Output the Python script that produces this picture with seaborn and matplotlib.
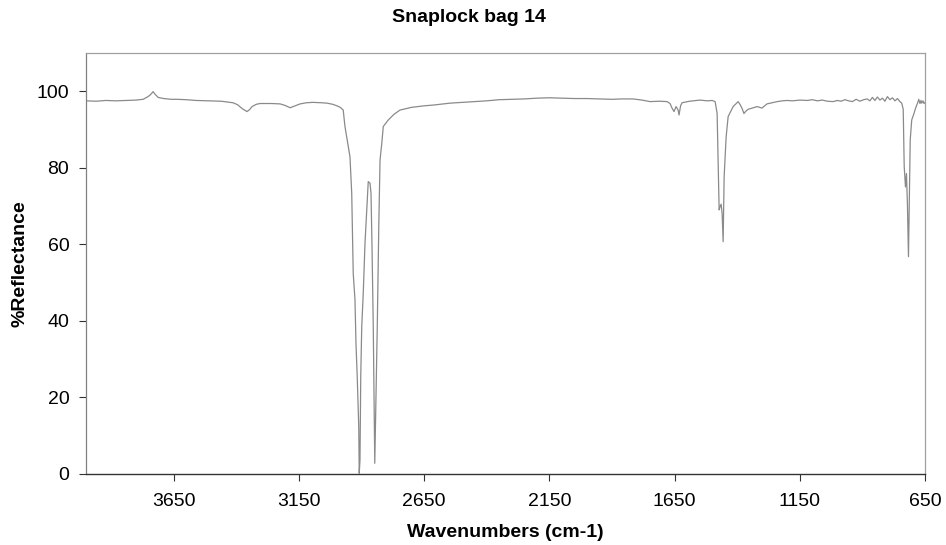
import matplotlib
matplotlib.use("Agg")
import matplotlib.pyplot as plt
import seaborn as sns
import pandas as pd

# IR reflectance spectrum of a snap-lock polyethylene bag
wavenumber = [
    4000, 3960, 3920, 3880, 3840, 3800, 3772, 3755, 3744, 3732, 3724, 3712,
    3690, 3660, 3637, 3600, 3560, 3505, 3460, 3413, 3395, 3377, 3365, 3357,
    3347, 3337, 3320, 3305, 3260, 3225, 3205, 3185, 3165, 3145, 3120, 3094,
    3060, 3038, 3015, 2998, 2985, 2973, 2966, 2954, 2946, 2939, 2933, 2926,
    2922, 2917, 2911, 2909, 2906, 2903, 2899, 2893, 2886, 2879, 2873, 2866,
    2862, 2858, 2853, 2850, 2847, 2842, 2837, 2831, 2826, 2819, 2813, 2793,
    2770, 2746, 2700, 2650, 2613, 2546, 2500, 2450, 2400, 2350, 2300, 2250,
    2200, 2150, 2100, 2050, 2000, 1948, 1900, 1860, 1816, 1780, 1748, 1710,
    1680, 1668, 1660, 1652, 1644, 1640, 1636, 1632, 1626, 1620, 1590, 1548,
    1520, 1500, 1488, 1480, 1472, 1468, 1464, 1460, 1456, 1452, 1444, 1436,
    1416, 1396, 1388, 1381, 1373, 1365, 1356, 1340, 1321, 1310, 1301, 1281,
    1260, 1240, 1220, 1200, 1180, 1149, 1120, 1100, 1080, 1060, 1040, 1017,
    1000, 985, 970, 955, 940, 925, 910, 895, 881, 870, 860, 850,
    840, 830, 820, 810, 800, 790, 780, 770, 760, 750, 743, 737,
    733, 728, 724, 720, 716, 713, 709, 703, 694, 688, 683, 679,
    675, 670, 666, 663, 658, 654, 650,
]
reflectance = [
    97.5, 97.4, 97.6, 97.5, 97.6, 97.7, 97.9, 98.5, 99.0, 99.9, 99.2, 98.4,
    98.1, 97.9, 97.9, 97.8, 97.6, 97.5, 97.4, 97.0, 96.5, 95.5, 95.0, 94.7,
    95.2, 96.0, 96.6, 96.8, 96.8, 96.7, 96.3, 95.7, 96.2, 96.7, 97.0, 97.1,
    97.0, 96.9, 96.6, 96.2, 95.8, 95.1, 90.8, 86.0, 82.9, 73.3, 52.4, 45.5,
    34.1, 25.4, 12.4, 0.2, 3.7, 25.4, 38.5, 47.2, 60.3, 69.0, 76.4, 76.0,
    73.3, 59.4, 38.5, 21.1, 2.8, 21.1, 38.5, 64.6, 82.0, 86.4, 90.8, 92.5,
    94.0, 95.1, 95.8, 96.2, 96.4, 96.9, 97.1, 97.3, 97.5, 97.8, 97.9, 98.0,
    98.2, 98.3, 98.2, 98.1, 98.1, 98.0, 97.9, 98.0, 98.0, 97.7, 97.3, 97.4,
    97.3, 96.8, 95.6, 94.7, 96.0, 95.6, 95.1, 93.8, 96.2, 97.0, 97.4, 97.7,
    97.5, 97.6, 97.3, 94.2, 69.0, 69.9, 70.5, 68.0, 60.7, 77.7, 88.1, 93.4,
    96.0, 97.3, 96.5, 95.6, 94.2, 94.8, 95.3, 95.6, 96.0, 95.8, 95.6, 96.7,
    97.0, 97.3, 97.5, 97.6, 97.5, 97.7, 97.6, 97.8, 97.5, 97.7, 97.4, 97.3,
    97.6, 97.4, 97.8, 97.5, 97.3, 97.9, 97.4, 97.8, 98.0, 97.5, 98.4, 97.6,
    98.5, 97.7, 98.2, 97.4, 98.6, 97.8, 98.3, 97.5, 98.1, 97.3, 96.9, 95.3,
    80.3, 75.0, 78.5, 70.0, 56.8, 70.0, 87.3, 92.5, 94.2, 95.5, 96.4, 97.0,
    97.9, 96.8, 97.6, 96.9, 97.5, 96.8, 97.1,
]

x_ticks = [3650, 3150, 2650, 2150, 1650, 1150, 650]
y_ticks = [0, 20, 40, 60, 80, 100]

spectrum = pd.DataFrame({"wavenumber": wavenumber, "reflectance": reflectance})

sns.set_theme(style="white")
plt.rcParams["font.family"] = ["Liberation Sans", "DejaVu Sans"]
plt.rcParams["text.color"] = "black"
plt.rcParams["axes.labelcolor"] = "black"

fig, ax = plt.subplots(figsize=(9.46, 5.45), dpi=100)
fig.subplots_adjust(left=86 / 946, right=925 / 946, bottom=1 - 474 / 545, top=1 - 53 / 545)

sns.lineplot(data=spectrum, x="wavenumber", y="reflectance", ax=ax,
             estimator=None, color="#8a8a8a", linewidth=0.9)

ax.set_xlim(4000, 650)
ax.set_ylim(0, 110)
ax.set_xticks(x_ticks)
ax.set_yticks(y_ticks)
ax.tick_params(axis="both", which="major", direction="out", length=5, width=0.8,
               color="#333333", labelsize=14, labelcolor="black",
               bottom=True, left=True)
ax.tick_params(axis="x", pad=9)
ax.tick_params(axis="y", pad=7)

for side in ("top", "right"):
    ax.spines[side].set_color("#a0a0a0")
    ax.spines[side].set_linewidth(0.9)
ax.spines["left"].set_color("#808080")
ax.spines["left"].set_linewidth(0.9)
ax.spines["bottom"].set_color("#333333")
ax.spines["bottom"].set_linewidth(1.0)

fig.text(469 / 946, 1 - 18 / 545, "Snaplock bag 14", fontsize=14,
         fontweight="bold", color="black", ha="center", va="center")
ax.set_xlabel("Wavenumbers (cm-1)", fontsize=14, fontweight="bold", labelpad=10)
ax.set_ylabel("%Reflectance", fontsize=14, fontweight="bold", labelpad=6)

fig.savefig("out.png", dpi=100)
